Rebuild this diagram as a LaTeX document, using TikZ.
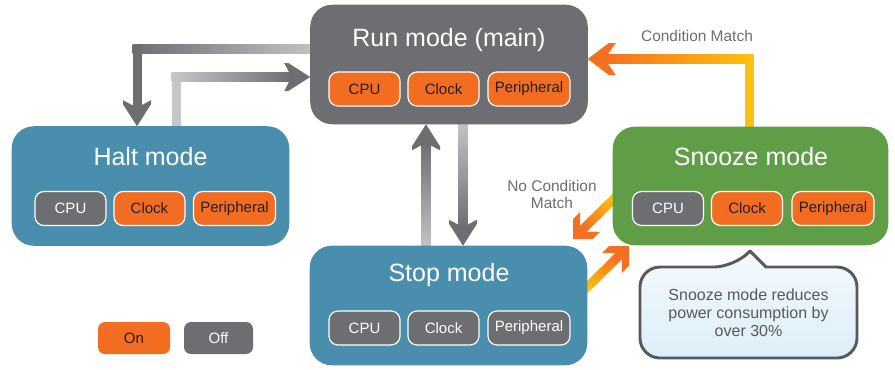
\documentclass[tikz,border=0pt]{standalone}
\usepackage{fontspec}
\setmainfont{Liberation Sans}
\usetikzlibrary{calc}
\definecolor{rungray}{HTML}{6D6E71}
\definecolor{modeblue}{HTML}{4A8EAD}
\definecolor{snoozegreen}{HTML}{5F9E47}
\definecolor{onorange}{HTML}{F26C22}
\definecolor{txtdark}{HTML}{231F20}
\definecolor{lblgray}{HTML}{6D6E71}
\definecolor{arrdark}{HTML}{6D6E71}
\definecolor{arrlight}{HTML}{C6C7C9}
\definecolor{arryellow}{HTML}{FFC20E}
\definecolor{arrorange}{HTML}{F37021}
\definecolor{calloutborder}{HTML}{58595B}
\definecolor{callouttop}{HTML}{F5FAFD}
\definecolor{calloutbottom}{HTML}{DCEEF8}
\tikzset{
  grayhead/.pic={\fill[arrdark] (0,0) -- (-22,14) -- (-26,14) -- (-21,4.5) -- (-21,-4.5) -- (-26,-14) -- (-22,-14) -- cycle;},
  orangehead/.pic={\fill[arrorange] (0,0) -- (-21,16) -- (-28,16) -- (-20,4.5) -- (-20,-4.5) -- (-28,-16) -- (-21,-16) -- cycle;},
  diaghead/.pic={\fill[arrorange] (0,0) -- (-14,14) -- (-24,14) -- (-14.5,4.5) -- (-14.5,-4.5) -- (-24,-14) -- (-14,-14) -- cycle;},
  modebox/.style={inner sep=0pt, rounded corners=16.5pt, minimum width=207.75pt, minimum height=89.25pt},
  modetitle/.style={inner sep=0pt, text=white, font=\fontsize{18.75}{22}\selectfont},
  subbox/.style={draw=white, line width=0.9pt, rounded corners=6.75pt, minimum width=53.25pt, minimum height=25.5pt, inner sep=0pt, font=\fontsize{11.25}{13}\selectfont},
  wide/.style={minimum width=61.5pt},
  onbox/.style={subbox, fill=onorange, text=txtdark},
  offbox/.style={subbox, fill=rungray, text=white},
  lbl/.style={inner sep=0pt, text=lblgray, font=\fontsize{11.6}{12.75}\selectfont, align=center},
  legbox/.style={inner sep=0pt, rounded corners=5.25pt, minimum width=54pt, minimum height=24pt, font=\fontsize{11.25}{13}\selectfont},
}
\begin{document}
\begin{tikzpicture}[x=0.75pt,y=-0.75pt]
\useasboundingbox (0,0) rectangle (895,369);

% mode boxes (coordinates for arrows depend on them)
\path (449,64.5) node[modebox] (run) {};
\path (150.5,186) node[modebox] (halt) {};
\path (750.5,186) node[modebox, minimum width=206.25pt, minimum height=88.5pt] (snooze) {};
\path (448.5,305.5) node[modebox] (stop) {};

% ---- arrows (drawn under the boxes) ----
% Run -> Halt
\shade[left color=arrdark, right color=arrlight] (132.5,44.5) rectangle ($(run.west |- 0,53.5)+(12,0)$);
\fill[arrdark] (132.5,44.5) rectangle (141.5,106);
\pic[rotate=-90] at (halt.north -| 137,0) {grayhead};
% Halt -> Run
\fill[arrlight] ($(halt.north -| 171.5,0)+(0,5)$) rectangle (180.5,72.5);
\shade[left color=arrlight, right color=arrdark] (171.5,72.5) rectangle (292,81.5);
\pic at (run.west |- 0,77) {grayhead};
% Run -> Stop
\shade[top color=arrlight, bottom color=arrdark] ($(run.south -| 458.5,0)+(0,-5)$) rectangle (467.5,228);
\pic[rotate=-90] at (stop.north -| 463,0) {grayhead};
% Stop -> Run
\shade[top color=arrdark, bottom color=arrlight] (421.5,142) rectangle ($(stop.north -| 430.5,0)+(0,5)$);
\pic[rotate=90] at (run.south -| 426,0) {grayhead};
% Snooze -> Run (Condition Match)
\fill[arryellow] ($(snooze.north -| 744.5,0)+(0,5)$) rectangle (753.5,54.5);
\shade[left color=arrorange, right color=arryellow] (606,54.5) rectangle (753.5,63.5);
\pic[rotate=180] at (run.east |- 0,59) {orangehead};
% Snooze -> Stop (No Condition Match)
\coordinate (s6) at ($(snooze.west |- 0,195)+(5,0)$);
\coordinate (t6) at (573,239);
\coordinate (e6) at ($(t6)!9pt!(s6)$);
\shade[top color=arryellow, bottom color=arrorange, shading angle=-45]
  ($(s6)!3.375pt!90:(e6)$) -- ($(s6)!3.375pt!-90:(e6)$) -- ($(e6)!3.375pt!90:(s6)$) -- ($(e6)!3.375pt!-90:(s6)$) -- cycle;
\pic[rotate=-135] at (t6) {diaghead};
% Stop -> Snooze
\coordinate (s7) at ($(stop.east |- 0,292)+(-5,0)$);
\coordinate (t7) at (629,246);
\coordinate (e7) at ($(t7)!9pt!(s7)$);
\shade[top color=arrorange, bottom color=arryellow, shading angle=-45]
  ($(s7)!3.375pt!90:(e7)$) -- ($(s7)!3.375pt!-90:(e7)$) -- ($(e7)!3.375pt!90:(s7)$) -- ($(e7)!3.375pt!-90:(s7)$) -- cycle;
\pic[rotate=45] at (t7) {diaghead};

% ---- boxes on top ----
\fill[rungray, rounded corners=16.5pt] (run.south west) rectangle (run.north east);
\fill[modeblue, rounded corners=16.5pt] (halt.south west) rectangle (halt.north east);
\fill[snoozegreen, rounded corners=16.5pt] (snooze.south west) rectangle (snooze.north east);
\fill[modeblue, rounded corners=16.5pt] (stop.south west) rectangle (stop.north east);

\node[modetitle] (runT) at (449,40) {Run mode (main)};
\node[onbox] (runcpu) at (364.5,89) {CPU};
\node[onbox] (runclk) at (443.5,89) {Clock};
\node[onbox, wide] (runper) at (529,89) {Peripheral};

\node[modetitle] (haltT) at (150.5,157) {Halt mode};
\node[offbox] (haltcpu) at (70.5,208.5) {CPU};
\node[onbox] (haltclk) at (149.5,208.5) {Clock};
\node[onbox, wide] (haltper) at (234.5,208.5) {Peripheral};

\node[modetitle] (snoozeT) at (751,157) {Snooze mode};
\node[offbox] (snoozecpu) at (668,208.5) {CPU};
\node[onbox] (snoozeclk) at (747,208.5) {Clock};
\node[onbox, wide] (snoozeper) at (833,208.5) {Peripheral};

\node[modetitle] (stopT) at (449,275) {Stop mode};
\node[offbox] (stopcpu) at (364.5,328) {CPU};
\node[offbox] (stopclk) at (443.5,328) {Clock};
\node[offbox, wide] (stopper) at (529,328) {Peripheral};

% labels
\node[lbl] (condlbl) at (697,36) {Condition Match};
\node[lbl] (nocondlbl) at (552,194.5) {No Condition\\Match};

% callout
\shadedraw[top color=callouttop, bottom color=calloutbottom, draw=calloutborder, line width=2.2pt, line join=round]
  (750,251) -- (766,267) [rounded corners=15pt] -- (857,267) -- (857,358) -- (640,358) -- (640,267) -- (734,267) [sharp corners] -- cycle;
\node[inner sep=0pt, text=calloutborder, align=center, font=\fontsize{12}{13.5}\selectfont] (callouttext) at (748.5,313) {Snooze mode reduces\\power consumption by\\over 30\%};

% legend
\node[legbox, fill=onorange, text=txtdark] (legon) at (134,338) {On};
\node[legbox, fill=rungray, text=white, minimum width=51.75pt] (legoff) at (218.5,338) {Off};
\end{tikzpicture}
\end{document}
